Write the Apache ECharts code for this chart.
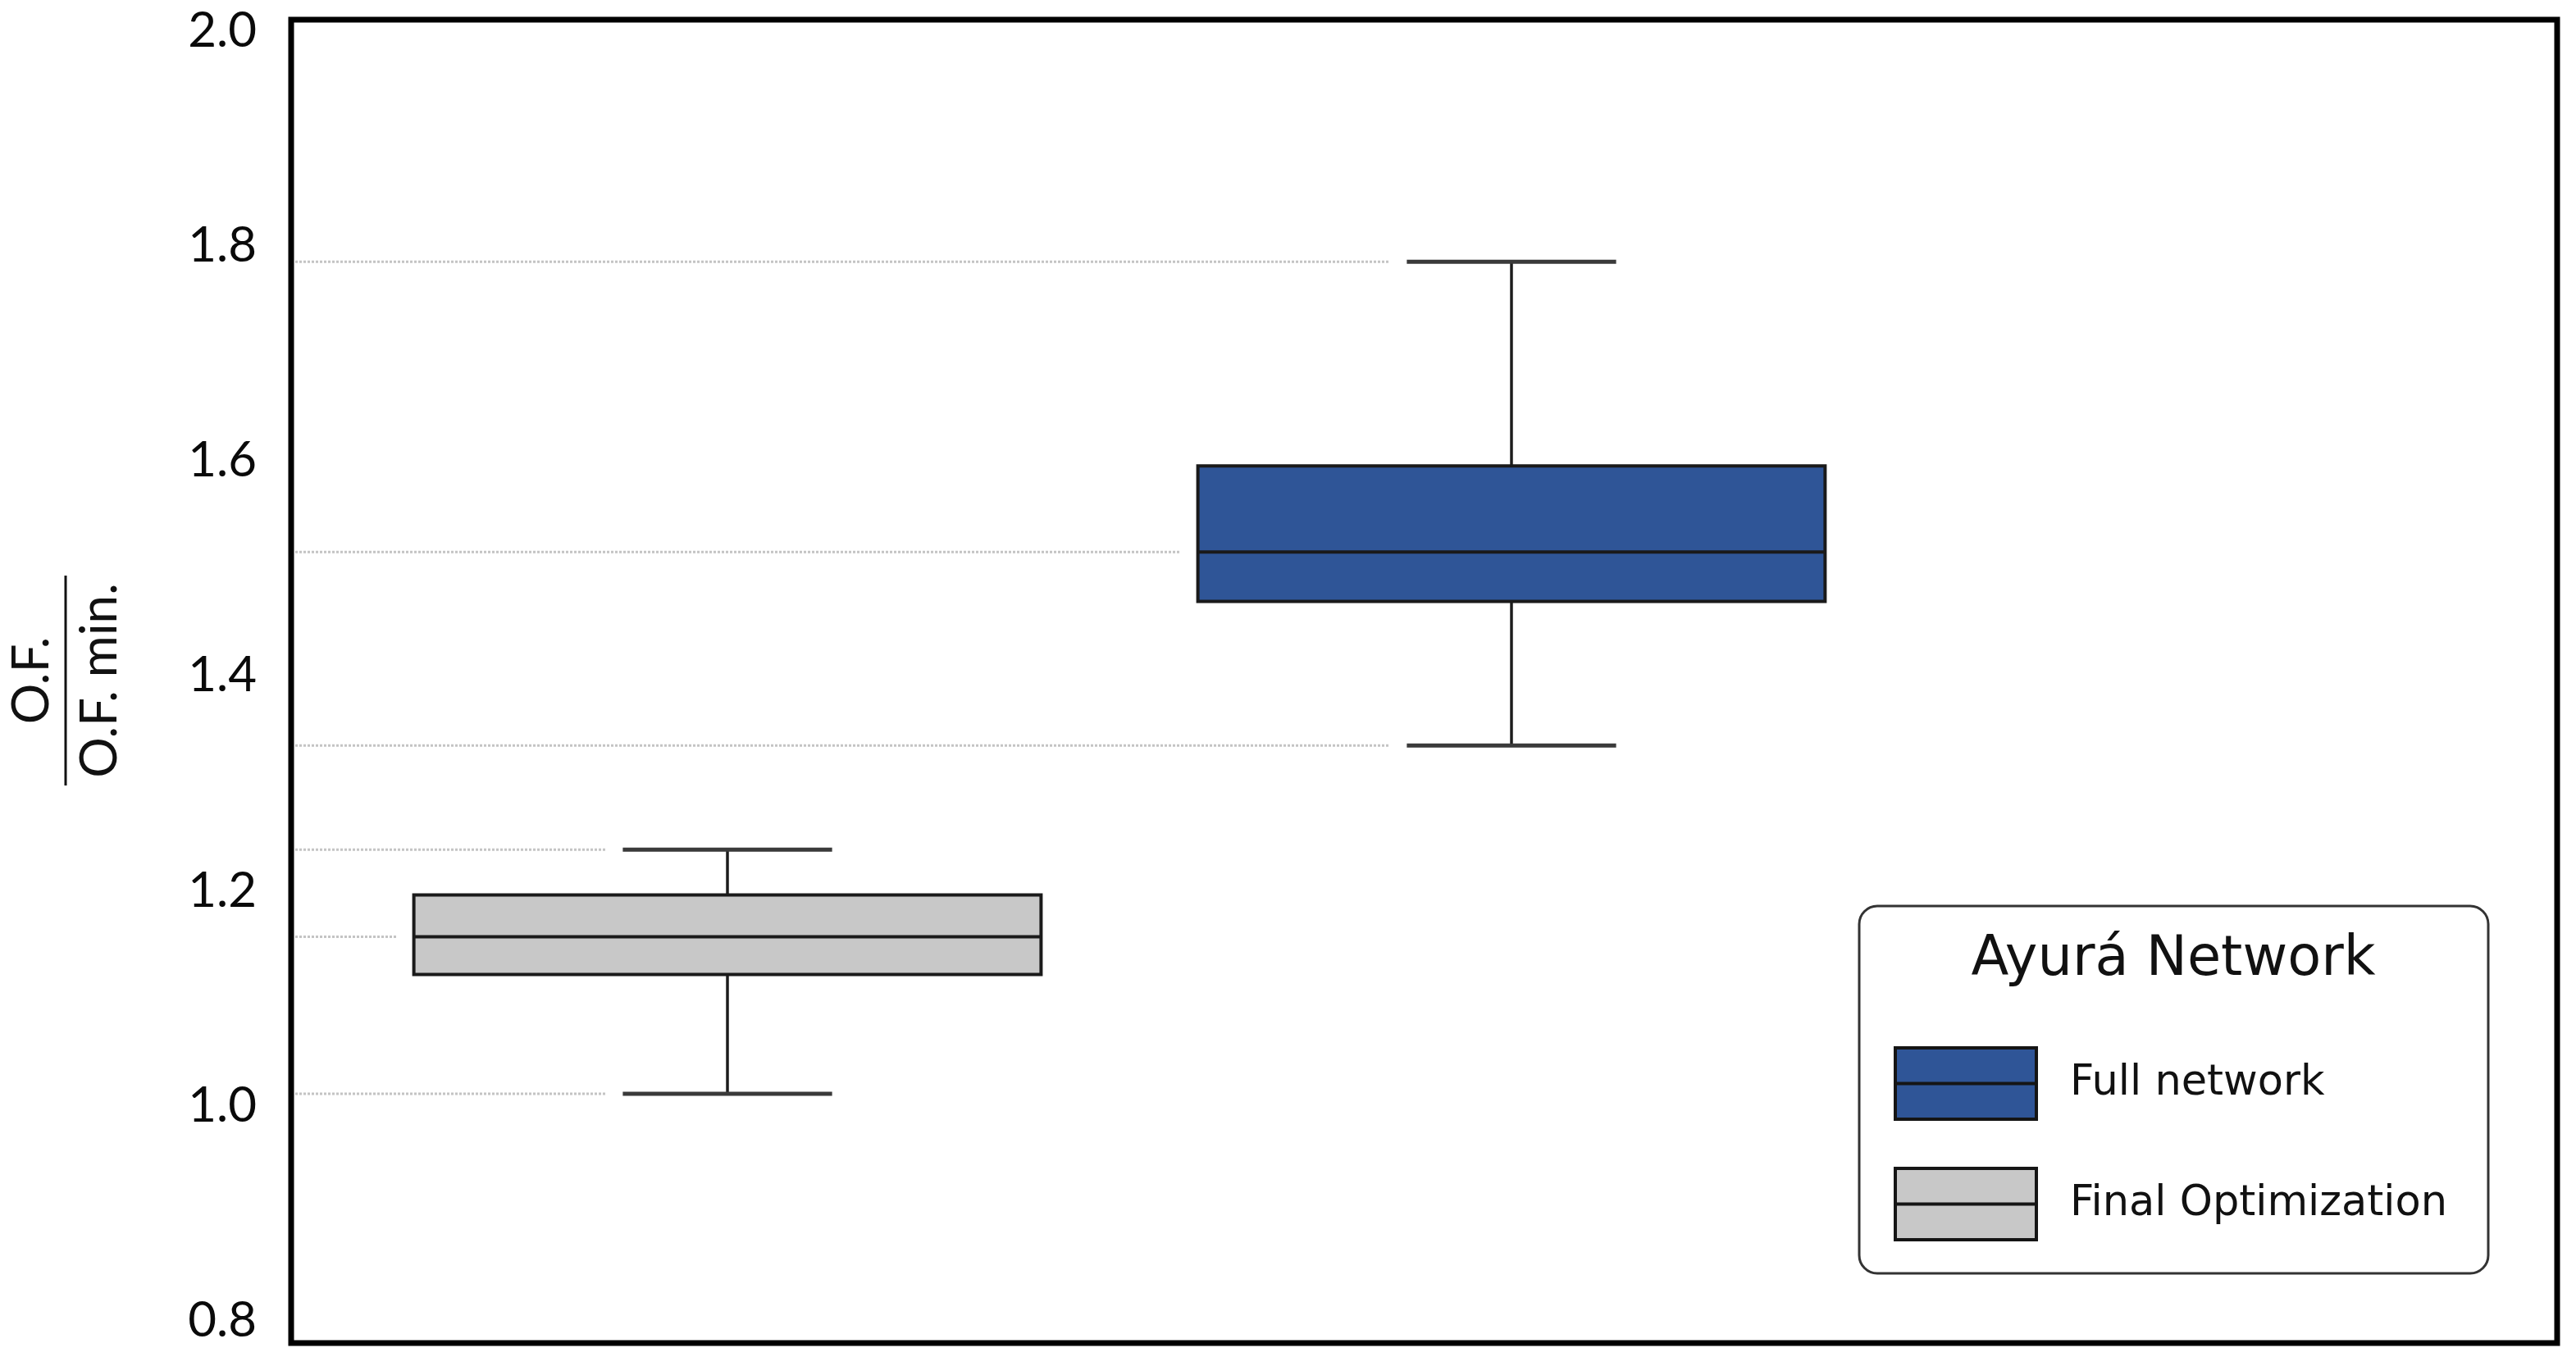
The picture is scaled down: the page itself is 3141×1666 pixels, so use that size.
<!DOCTYPE html>
<html><head><meta charset="utf-8">
<script src="https://cdn.jsdelivr.net/npm/echarts@6/dist/echarts.min.js"></script>
<style>html,body{margin:0;padding:0;background:#fff}#c{width:3141px;height:1666px}</style>
</head><body><div id="c"></div>
<script>
// ---- data ----
const CATEGORIES = ['Final Optimization', 'Full network'];
const WHISKER_LOW = [1.011, 1.335];
const Q1 = [1.122, 1.469];
const MEDIAN = [1.157, 1.515];
const Q3 = [1.196, 1.595];
const WHISKER_HIGH = [1.238, 1.785];
const Y_TICKS = [0.8, 1.0, 1.2, 1.4, 1.6, 1.8, 2.0];
const Y_NAME_TOP = 'O.F.';
const Y_NAME_BOTTOM = 'O.F. min.';
const LEGEND_TITLE = 'Ayurá Network';
const LEGEND_ORDER = ['Full network', 'Final Optimization'];

// ---- styles / layout ----
const COLORS = {'Final Optimization': '#C8C8C8', 'Full network': '#2F5597'};
const BOX_WIDTH = 0.8, CAP_WIDTH = 0.267, GAP = 21;

function ln(x1, y1, x2, y2, style) {
  return {type: 'line', shape: {x1, y1, x2, y2}, style};
}
function renderBox(params, api) {
  const xv = api.value(0);
  const vals = [api.value(1), api.value(2), api.value(3), api.value(4), api.value(5)];
  const ys = vals.map(v => api.coord([xv, v])[1]);
  const cx = api.coord([xv, vals[2]])[0];
  const bw = api.size([BOX_WIDTH, 0])[0];
  const cw = api.size([CAP_WIDTH, 0])[0];
  const x0 = params.coordSys.x + 5;
  const fill = api.visual('color');
  const dotted = {stroke: '#c4c4c4', lineWidth: 3, lineDash: [3, 2]};
  const stem = {stroke: '#1c1c1c', lineWidth: 3.5};
  const cap = {stroke: '#3a3a3a', lineWidth: 5};
  const edge = {stroke: '#1a1a1a', lineWidth: 4};
  return {
    type: 'group',
    children: [
      ln(x0, ys[4], cx - cw / 2 - GAP, ys[4], dotted),
      ln(x0, ys[2], cx - bw / 2 - GAP, ys[2], dotted),
      ln(x0, ys[0], cx - cw / 2 - GAP, ys[0], dotted),
      ln(cx, ys[4], cx, ys[3], stem),
      ln(cx, ys[1], cx, ys[0], stem),
      ln(cx - cw / 2, ys[4], cx + cw / 2, ys[4], cap),
      ln(cx - cw / 2, ys[0], cx + cw / 2, ys[0], cap),
      {type: 'rect', shape: {x: cx - bw / 2, y: ys[3], width: bw, height: ys[1] - ys[3]},
       style: Object.assign({fill: fill}, edge)},
      ln(cx - bw / 2, ys[2], cx + bw / 2, ys[2], edge)
    ]
  };
}

const series = CATEGORIES.map((name, i) => ({
  name: name,
  type: 'custom',
  renderItem: renderBox,
  itemStyle: {color: COLORS[name]},
  encode: {x: 0, y: [1, 2, 3, 4, 5]},
  data: [[i + 1, WHISKER_LOW[i], Q1[i], MEDIAN[i], Q3[i], WHISKER_HIGH[i]]],
  z: 3
}));

const chart = echarts.init(document.getElementById('c'), null, {renderer: 'canvas'});
chart.setOption({
  backgroundColor: '#ffffff',
  animation: false,
  grid: {left: 355, top: 24, right: 23, bottom: 28, show: true,
         borderColor: '#000', borderWidth: 7, backgroundColor: 'transparent'},
  xAxis: {type: 'value', min: 0.4435, max: 3.3337, show: false},
  yAxis: {
    type: 'value', min: 0.7791, max: 2.0102,
    axisLine: {show: false}, axisTick: {show: false}, splitLine: {show: false},
    axisLabel: {
      customValues: Y_TICKS,
      formatter: v => Number(v).toFixed(1),
      fontFamily: 'Lato', fontSize: 60, color: '#0a0a0a', margin: 42
    }
  },
  legend: {
    data: LEGEND_ORDER.map(n => ({name: n, itemStyle: {color: COLORS[n], borderColor: '#151515', borderWidth: 4}})),
    orient: 'vertical', left: 2309, top: 1276, padding: 0,
    itemWidth: 172, itemHeight: 87, itemGap: 56,
    icon: 'path://M0,0H172V87H0Z M0,43.5H172',
    selectedMode: false,
    textStyle: {fontFamily: 'DejaVu Sans', fontSize: 51, color: '#111', padding: [14, 0, 0, 36]},
    z: 6
  },
  graphic: [
    {type: 'rect', z: 4, shape: {x: 2267, y: 1105, width: 767, height: 448, r: 22},
     style: {fill: '#fff', stroke: '#333', lineWidth: 3}},
    {type: 'text', z: 6, x: 2650, y: 1172,
     style: {text: LEGEND_TITLE, font: '67px "DejaVu Sans"', fill: '#111', align: 'center', verticalAlign: 'middle'}},
    {type: 'group', x: 80, y: 830, rotation: Math.PI / 2, children: [
      {type: 'line', shape: {x1: -128, y1: 0, x2: 128, y2: 0}, style: {stroke: '#111', lineWidth: 3}},
      {type: 'text', x: 0, y: -41, style: {text: Y_NAME_TOP, font: '62px Lato', fill: '#111', align: 'center', verticalAlign: 'middle'}},
      {type: 'text', x: 0, y: 42, style: {text: Y_NAME_BOTTOM, font: '62px Lato', fill: '#111', align: 'center', verticalAlign: 'middle'}}
    ]}
  ],
  series: series
});
</script></body></html>
